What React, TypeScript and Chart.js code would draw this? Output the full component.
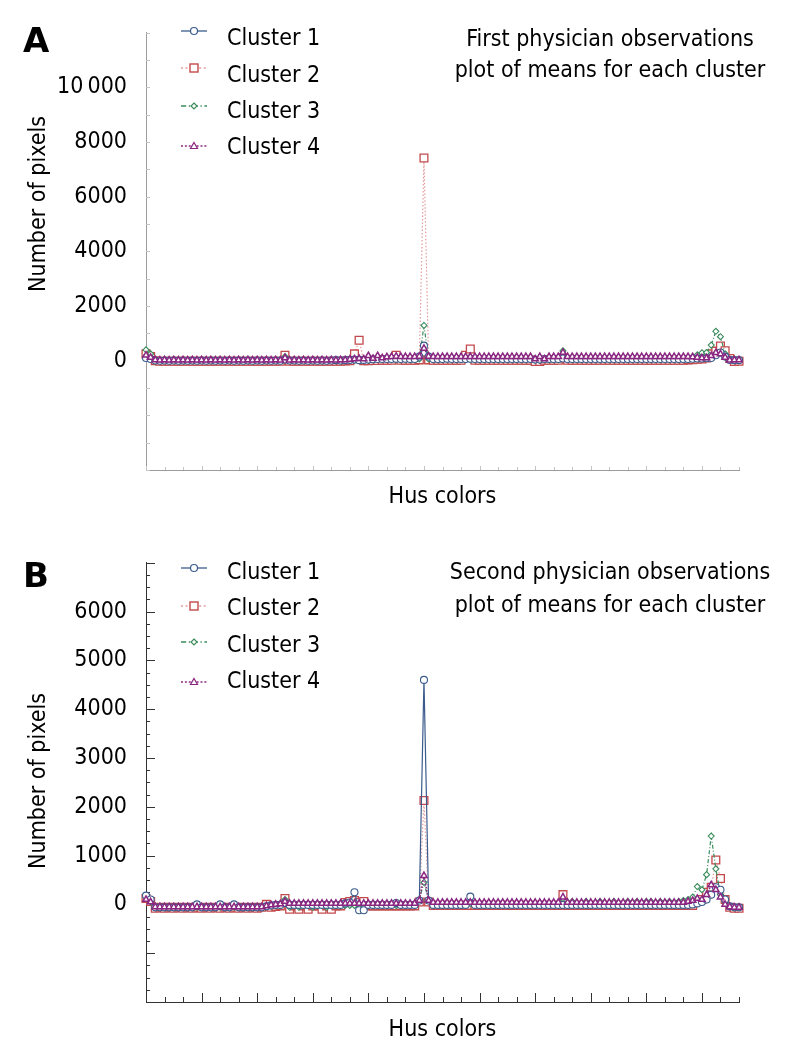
import React, { useEffect, useRef } from 'react';
import { Chart, registerables } from 'chart.js';
Chart.register(...registerables);

const FONT = '"DejaVu Sans Condensed", "DejaVu Sans", sans-serif';

const SERIES_NAMES = ['Cluster 1', 'Cluster 2', 'Cluster 3', 'Cluster 4'];
const X_TITLE = 'Hus colors';
const Y_TITLE = 'Number of pixels';
const TITLE_A = ['First physician observations', 'plot of means for each cluster'];
const TITLE_B = ['Second physician observations', 'plot of means for each cluster'];

const A_Y_TICK_VALUES = [0, 2000, 4000, 6000, 8000, 10000];
const A_Y_TICK_LABELS = ['0', '2000', '4000', '6000', '8000', '10\u2009000'];
const B_Y_TICK_VALUES = [0, 1000, 2000, 3000, 4000, 5000, 6000];
const B_Y_TICK_LABELS = ['0', '1000', '2000', '3000', '4000', '5000', '6000'];

// Panel A – first physician (129 hue bins)
const A_C1 = [
  100, 60, 10, 0, 10, 0, 10, 0, 10, 0, 10, 0, 10, 0, 10, 0,
  10, 0, 10, 0, 10, 0, 10, 0, 10, 0, 10, 0, 10, 0, 40, 10,
  10, 0, 10, 0, 10, 0, 10, 0, 10, 20, 10, 20, 30, 40, 20, 30,
  40, 50, 60, 60, 60, 60, 70, 60, 70, 60, 60, 150, 550, 150, 60, 60,
  60, 70, 60, 60, 60, 60, 70, 60, 60, 60, 60, 60, 60, 60, 60, 60,
  60, 60, 60, 60, 40, 40, 60, 60, 60, 60, 80, 60, 60, 60, 60, 60,
  60, 60, 60, 60, 60, 60, 60, 60, 60, 60, 60, 60, 60, 60, 60, 60,
  60, 60, 60, 60, 60, 60, 70, 80, 80, 90, 100, 200, 300, 150, 30, 20,
  20,
];
const A_C2 = [
  250, 150, 0, -20, -20, -20, -20, -20, -20, -20, -20, -20, -20, -20, -20, -20,
  -20, -20, -20, -20, -20, -20, -20, -20, -20, -20, -20, -20, -20, -20, 200, -20,
  -20, -20, -20, -20, -20, -20, -20, -20, -20, -20, -20, -10, 0, 250, 750, 0,
  0, 10, 10, 20, 20, 20, 200, 20, 20, 20, 20, 30, 7420, 30, 20, 20,
  20, 20, 20, 20, 20, 200, 430, 20, 20, 20, 20, 20, 20, 20, 20, 20,
  20, 20, 20, 20, -30, -30, 20, 20, 20, 20, 100, 20, 20, 20, 20, 20,
  20, 20, 20, 20, 20, 20, 20, 20, 20, 20, 20, 20, 20, 20, 20, 20,
  20, 20, 20, 20, 20, 30, 40, 50, 60, 100, 250, 350, 540, 360, 80, -30,
  -20,
];
const A_C3 = [
  400, 250, 0, 0, 10, 0, 10, 0, 0, 10, 0, 0, 10, 0, 0, 10,
  0, 0, 10, 0, 0, 10, 0, 0, 10, 0, 0, 10, 0, 0, 150, 10,
  0, 0, 10, 0, 0, 10, 0, 0, 10, 0, 0, 10, 20, 20, 20, 20,
  20, 40, 60, 100, 80, 40, 40, 40, 40, 40, 40, 60, 1290, 60, 40, 40,
  40, 40, 40, 40, 40, 40, 40, 40, 40, 40, 40, 40, 40, 40, 40, 40,
  40, 40, 40, 40, 20, 20, 40, 40, 40, 40, 360, 100, 40, 40, 40, 40,
  40, 40, 40, 40, 40, 40, 40, 40, 40, 40, 40, 40, 40, 40, 40, 40,
  40, 40, 40, 40, 40, 80, 150, 215, 290, 300, 570, 1075, 880, 250, 50, 20,
  0,
];
const A_C4 = [
  200, 120, 30, 20, 30, 20, 30, 20, 30, 20, 30, 20, 30, 20, 30, 20,
  30, 20, 30, 20, 30, 20, 30, 20, 30, 20, 30, 20, 30, 20, 100, 20,
  30, 20, 30, 20, 30, 20, 30, 20, 30, 20, 30, 30, 50, 60, 80, 60,
  180, 80, 180, 100, 140, 150, 160, 150, 150, 150, 150, 160, 450, 160, 150, 150,
  150, 150, 150, 150, 150, 150, 150, 150, 150, 150, 150, 150, 150, 150, 150, 150,
  150, 150, 150, 150, 60, 150, 60, 150, 150, 150, 300, 150, 150, 150, 150, 150,
  150, 150, 150, 150, 150, 150, 150, 150, 150, 150, 150, 150, 150, 150, 150, 150,
  150, 150, 150, 150, 150, 150, 140, 120, 100, 100, 180, 290, 250, 120, 20, 30,
  30,
];

// Panel B – second physician
const B_C1 = [
  180, 100, -60, -60, -60, -60, -60, -60, -60, -60, -60, 0, -60, -60, -60, -60,
  0, -60, -60, 0, -60, -60, -60, -60, -60, -60, -40, -20, -10, -10, 30, -10,
  -10, -10, -10, -10, -10, -10, -10, -10, -10, -10, -10, 20, 40, 250, -120, -120,
  -10, -10, -10, -10, -10, -10, 30, -10, -10, -10, -10, 80, 4600, 80, -10, -10,
  -10, -10, -10, -10, -10, -10, 160, -10, -10, -10, -10, -10, -10, -10, -10, -10,
  -10, -10, -10, -10, -10, -10, -10, -10, -10, -10, -10, -10, -10, -10, -10, -10,
  -10, -10, -10, -10, -10, -10, -10, -10, -10, -10, -10, -10, -10, -10, -10, -10,
  -10, -10, -10, -10, -10, -10, 0, 20, 50, 100, 200, 350, 300, 100, -40, -60,
  -60,
];
const B_C2 = [
  120, 60, -80, -60, -80, -60, -80, -60, -80, -60, -80, -60, -80, -60, -80, -60,
  -80, -60, -80, -60, -80, -60, -80, -60, -80, -60, 0, -60, -40, -30, 120, -100,
  -30, -100, -30, -100, -30, -30, -100, -30, -100, -30, -30, 40, 60, 80, 40, 60,
  -30, -30, -30, -30, -30, -30, -30, -30, -30, -30, -30, 50, 2130, 50, -20, -20,
  -20, -20, -20, -20, -20, -20, -20, -20, -20, -20, -20, -20, -20, -20, -20, -20,
  -20, -20, -20, -20, -20, -20, -20, -20, -20, -20, 200, -20, -20, -20, -20, -20,
  -20, -20, -20, -20, -20, -20, -20, -20, -20, -20, -20, -20, -20, -20, -20, -20,
  -20, -20, -20, -20, -20, -20, -20, 60, 100, 250, 350, 910, 530, 100, -60, -80,
  -80,
];
const B_C3 = [
  150, 50, -60, -60, -60, -60, -60, -60, -60, -60, -60, -60, -60, -60, -60, -60,
  -60, -60, -60, -60, -60, -60, -60, -60, -60, -60, -40, -30, -20, -20, 100, -60,
  -20, -60, -20, -20, -60, -20, -20, -60, -20, -20, -20, -20, -20, -20, -20, -20,
  -20, -20, -20, -20, -20, -20, -20, -20, -20, -20, -20, 100, 450, 80, 20, 20,
  20, 20, 20, 20, 20, 20, 20, 20, 20, 20, 20, 20, 20, 20, 20, 20,
  20, 20, 20, 20, 20, 20, 20, 20, 20, 20, 120, 20, 60, 20, 20, 60,
  20, 20, 60, 20, 20, 60, 20, 20, 60, 20, 60, 20, 60, 60, 20, 60,
  40, 60, 40, 60, 80, 100, 150, 365, 300, 610, 1400, 730, 200, 50, -50, -60,
  -60,
];
const B_C4 = [
  100, 50, -50, -50, -50, -50, -50, -50, -50, -50, -50, -50, -50, -50, -50, -50,
  -50, -50, -50, -50, -50, -50, -50, -50, -50, -50, -30, -10, 0, 10, 60, 20,
  20, 20, 20, 20, 20, 20, 20, 20, 20, 20, 20, 20, 20, 20, 20, 20,
  20, 20, 20, 20, 20, 20, 20, 20, 20, 20, 20, 80, 590, 80, 40, 40,
  40, 40, 40, 40, 40, 40, 40, 40, 40, 40, 40, 40, 40, 40, 40, 40,
  40, 40, 40, 40, 40, 40, 40, 40, 40, 40, 150, 40, 40, 40, 40, 40,
  40, 40, 40, 40, 40, 40, 40, 40, 40, 40, 40, 40, 40, 40, 40, 40,
  40, 40, 40, 40, 40, 60, 80, 120, 100, 200, 400, 300, 150, 0, -50, -60,
  -60,
];

const STYLES = [
  { color: '#3b5b8c', line: '#3b5b8c', dash: [] as number[], point: 'circle', r: 3.5, bw: 1.1, lw: 1.2, order: 1 },
  { color: '#c4494c', line: '#e49c9c', dash: [1.5, 2], point: 'rect', r: 5.5, bw: 1.3, lw: 1.2, order: 3 },
  { color: '#3a8c5c', line: '#3a8c5c', dash: [4, 2, 1, 2], point: 'rectRot', r: 3, bw: 1.1, lw: 1.2, order: 2 },
  { color: '#8a2580', line: '#8a2580', dash: [1.5, 1.5], point: 'triangle', r: 3.6, bw: 1.5, lw: 1.6, order: 0 },
];

const tickPlugin = {
  id: 'inTicks',
  beforeDatasetsDraw(chart: any, _a: any, o: any) {
    const { ctx, chartArea } = chart;
    const xs = chart.scales.x;
    const ys = chart.scales.y;
    ctx.save();
    ctx.strokeStyle = o.color;
    ctx.lineWidth = 1;
    ctx.beginPath();
    for (let v = o.yMin; v <= o.yMax + 1e-6; v += o.yMinor) {
      const py = Math.round(ys.getPixelForValue(v)) + 0.5;
      const major = Math.abs(v % o.yMajor) < 1e-6;
      const len = major ? o.yMajorLen : o.yMinorLen;
      ctx.moveTo(chartArea.left, py);
      ctx.lineTo(chartArea.left + len, py);
    }
    for (let v = 0; v <= o.xMax + 1e-6; v += o.xMinor) {
      const px = Math.round(xs.getPixelForValue(v)) + 0.5;
      const major = Math.abs(v % o.xMajor) < 1e-6;
      const len = major ? o.xMajorLen : o.xMinorLen;
      ctx.moveTo(px, chartArea.bottom);
      ctx.lineTo(px, chartArea.bottom - len);
    }
    ctx.stroke();
    ctx.restore();
  },
};

type PanelCfg = {
  top: number;
  height: number;
  areaTop: number;
  xScaleH: number;
  xTitlePad: number;
  yMin: number;
  yMax: number;
  yStep: number;
  tickValues: number[];
  tickLabels: string[];
  series: number[][];
  axisColor: string;
  tickColor: string;
  yMinor: number;
  yMajor: number;
  yMinorLen: number;
  yMajorLen: number;
  xMinorLen: number;
  xMajorLen: number;
  letter: string;
  letterTop: number;
  title: string[];
  titleCenters: number[];
  yTitleCenter: number;
  legendText: number[];
  legendIcon: number[];
};

function LegendIcon({ k, cy }: { k: number; cy: number }) {
  const s = STYLES[k];
  const dash = s.dash.length ? s.dash.map((d) => d * 1.3).join(' ') : undefined;
  let marker: any = null;
  if (s.point === 'circle') marker = <circle cx={13} cy={7} r={3.5} fill="#fff" stroke={s.color} strokeWidth={1.2} />;
  else if (s.point === 'rect') marker = <rect x={9} y={3} width={8} height={8} fill="#fff" stroke={s.color} strokeWidth={1.4} />;
  else if (s.point === 'rectRot') marker = <polygon points="13,4 16,7 13,10 10,7" fill="#fff" stroke={s.color} strokeWidth={1.2} />;
  else marker = <polygon points="13,3.5 16.5,9.5 9.5,9.5" fill="#fff" stroke={s.color} strokeWidth={1.2} />;
  return (
    <svg width={26} height={14} style={{ position: 'absolute', left: 181, top: cy - 7 }}>
      <line x1={0} y1={7} x2={26} y2={7} stroke={s.line} strokeWidth={1.3} strokeDasharray={dash} />
      {marker}
    </svg>
  );
}

function Panel({ cfg }: { cfg: PanelCfg }) {
  const ref = useRef<HTMLCanvasElement | null>(null);
  useEffect(() => {
    if (!ref.current) return;
    const datasets = cfg.series.map((vals, k) => {
      const s = STYLES[k];
      return {
        label: SERIES_NAMES[k],
        data: vals.map((v, i) => ({ x: i, y: v })),
        borderColor: s.line,
        borderWidth: s.lw,
        borderDash: s.dash,
        pointStyle: s.point,
        pointRadius: s.r,
        pointBorderColor: s.color,
        pointBackgroundColor: '#ffffff',
        pointBorderWidth: s.bw,
        tension: 0,
        order: s.order,
        clip: false as any,
      };
    });
    const chart = new Chart(ref.current, {
      type: 'line',
      data: { datasets } as any,
      plugins: [tickPlugin],
      options: {
        animation: false,
        responsive: false,
        devicePixelRatio: 1,
        events: [],
        layout: { padding: { left: 0, right: 48, top: cfg.areaTop, bottom: 0 } },
        plugins: {
          legend: { display: false },
          tooltip: { enabled: false },
          inTicks: {
            color: cfg.tickColor,
            yMin: cfg.yMin,
            yMax: cfg.yMax,
            yMinor: cfg.yMinor,
            yMajor: cfg.yMajor,
            yMinorLen: cfg.yMinorLen,
            yMajorLen: cfg.yMajorLen,
            xMax: 128,
            xMinor: 4,
            xMajor: 12,
            xMinorLen: cfg.xMinorLen,
            xMajorLen: cfg.xMajorLen,
          },
        } as any,
        scales: {
          x: {
            type: 'linear',
            min: 0,
            max: 128,
            grid: { display: false },
            border: { display: true, color: cfg.axisColor, width: 1 },
            ticks: { display: false },
            title: {
              display: true,
              text: X_TITLE,
              color: '#000',
              font: { family: FONT, size: 23, lineHeight: 1.2 },
              padding: { top: 0, bottom: cfg.xTitlePad },
            },
            afterFit: (s: any) => {
              s.height = cfg.xScaleH;
            },
          },
          y: {
            type: 'linear',
            min: cfg.yMin,
            max: cfg.yMax,
            grid: { display: false, drawTicks: false },
            border: { display: true, color: cfg.axisColor, width: 1 },
            ticks: {
              stepSize: cfg.yStep,
              padding: 19,
              color: '#000',
              font: { family: FONT, size: 23 },
              callback: (v: any) => {
                const k = cfg.tickValues.indexOf(Number(v));
                return k >= 0 ? cfg.tickLabels[k] : '';
              },
            },
            afterFit: (s: any) => {
              s.width = 146;
            },
          },
        },
      } as any,
    });
    return () => chart.destroy();
  }, [cfg]);

  const text = (left: number, capCenter: number) => ({
    position: 'absolute' as const,
    left,
    top: capCenter - 11,
    fontSize: 23,
    lineHeight: '23px',
    whiteSpace: 'nowrap' as const,
  });

  return (
    <div style={{ position: 'absolute', left: 0, top: cfg.top, width: 787, height: cfg.height }}>
      <canvas ref={ref} width={787} height={cfg.height} style={{ display: 'block', width: 787, height: cfg.height }} />
      <div style={{ position: 'absolute', left: 23, top: cfg.letterTop, fontSize: 34, lineHeight: '34px', fontWeight: 'bold', fontFamily: '"DejaVu Sans", sans-serif' }}>
        {cfg.letter}
      </div>
      <div
        style={{
          position: 'absolute',
          left: 37,
          top: cfg.yTitleCenter,
          fontSize: 23,
          lineHeight: '23px',
          whiteSpace: 'nowrap',
          transform: 'translate(-50%, -50%) rotate(-90deg)',
        }}
      >
        {Y_TITLE}
      </div>
      {cfg.title.map((t, i) => (
        <div key={'t' + i} style={{ ...text(410, cfg.titleCenters[i]), width: 400, textAlign: 'center' }}>
          {t}
        </div>
      ))}
      {SERIES_NAMES.map((n, k) => (
        <React.Fragment key={n}>
          <LegendIcon k={k} cy={cfg.legendIcon[k]} />
          <div style={text(227, cfg.legendText[k])}>{n}</div>
        </React.Fragment>
      ))}
    </div>
  );
}

const PANEL_A: PanelCfg = {
  top: 0,
  height: 530,
  areaTop: 22,
  xScaleH: 60,
  xTitlePad: 19,
  yMin: -4000,
  yMax: 12000,
  yStep: 2000,
  tickValues: A_Y_TICK_VALUES,
  tickLabels: A_Y_TICK_LABELS,
  series: [A_C1, A_C2, A_C3, A_C4],
  axisColor: '#9c9c9c',
  tickColor: '#c4c4c4',
  yMinor: 1000,
  yMajor: 1000,
  yMinorLen: 4,
  yMajorLen: 4,
  xMinorLen: 3,
  xMajorLen: 4,
  letter: 'A',
  letterTop: 23,
  title: TITLE_A,
  titleCenters: [38, 69],
  yTitleCenter: 204,
  legendText: [37, 74, 110, 146],
  legendIcon: [31, 68, 106, 146],
};

const PANEL_B: PanelCfg = {
  top: 530,
  height: 531,
  areaTop: 26,
  xScaleH: 59,
  xTitlePad: 17,
  yMin: -2000,
  yMax: 7000,
  yStep: 1000,
  tickValues: B_Y_TICK_VALUES,
  tickLabels: B_Y_TICK_LABELS,
  series: [B_C1, B_C2, B_C3, B_C4],
  axisColor: '#333333',
  tickColor: '#333333',
  yMinor: 250,
  yMajor: 1000,
  yMinorLen: 4,
  yMajorLen: 9,
  xMinorLen: 5,
  xMajorLen: 9,
  letter: 'B',
  letterTop: 28,
  title: TITLE_B,
  titleCenters: [41, 74],
  yTitleCenter: 251,
  legendText: [41, 77, 114, 150],
  legendIcon: [38, 76, 112, 152],
};

export default function App() {
  return (
    <div style={{ position: 'fixed', left: 0, top: 0, width: 787, height: 1061, background: '#fff', fontFamily: FONT, color: '#000', overflow: 'hidden' }}>
      <Panel cfg={PANEL_A} />
      <Panel cfg={PANEL_B} />
    </div>
  );
}
